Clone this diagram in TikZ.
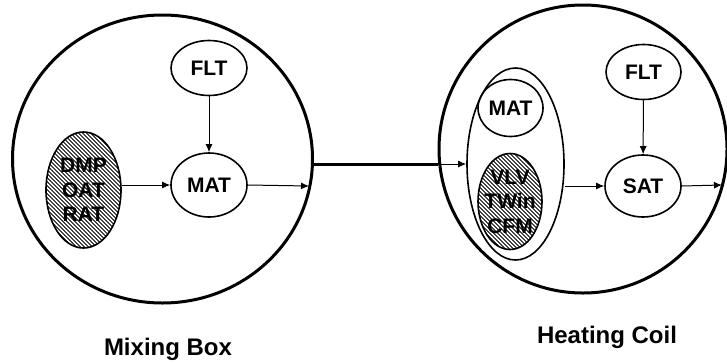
\documentclass[tikz,border=0pt]{standalone}
\usepackage{fontspec}
\setmainfont{Liberation Sans}
\usetikzlibrary{shapes.geometric}
\usetikzlibrary{arrows.meta}

\begin{document}
\begin{tikzpicture}[x=1pt,y=-1pt,
  every node/.style={font=\bfseries\fontsize{21}{24.5}\selectfont,inner sep=0pt},
  block/.style={ellipse,draw,line width=3pt},
  var/.style={ellipse,draw,line width=1.6pt},
  hatched/.style={var,path picture={
    \foreach \s in {-104,-100,...,104}
     \draw[line width=0.8pt] ([xshift=\s pt]path picture bounding box.center) ++(-70pt,70pt) -- ++(140pt,-140pt);
    \node[align=center] at (path picture bounding box.center) {#1};}},
  flow/.style={-{Latex[length=8pt,width=7pt]},line width=1pt},
  caption/.style={anchor=base,font=\bfseries\fontsize{24}{28}\selectfont}]
 \useasboundingbox (0,0) rectangle (727,362);
 \node[block,minimum width=300,minimum height=288] (mixbox) at (162.5,159) {};
 \node[block,minimum width=288,minimum height=288] (heatcoil) at (583,149) {};
 \node[var,minimum width=76,minimum height=55] (flta) at (209,68) {FLT};
 \node[var,minimum width=76,minimum height=64] (mata) at (209,185) {MAT};
 \node[hatched={DMP\\OAT\\RAT},minimum width=75,minimum height=116] (dmp) at (83.5,190) {};
 \node[var,minimum width=97,minimum height=192] (grp) at (515.5,164) {};
 \node[var,minimum width=65,minimum height=57] (matb) at (510.5,108) {MAT};
 \node[hatched={VLV\\TWin\\CFM},minimum width=64,minimum height=96] (vlv) at (510,201.5) {};
 \node[var,minimum width=75,minimum height=55] (fltb) at (643.5,72) {FLT};
 \node[var,minimum width=76,minimum height=62] (sat) at (643,186) {SAT};
 \coordinate (mbout) at (309,186);
 \coordinate (hcout) at (722,185);
 \draw[flow] (flta) -- (mata);
 \draw[flow] (dmp.east |- mata.west) -- (mata.west);
 \draw[flow] (mata.east) -- (mbout);
 \draw[line width=3pt] (mixbox.east |- grp.west) -- (heatcoil.west |- grp.west);
 \draw[flow] (heatcoil.west |- grp.west) -- (grp.west);
 \draw[flow] (grp.east |- sat.west) -- (sat.west);
 \draw[flow] (fltb) -- (sat);
 \draw[flow] (sat.east) -- (hcout);
 \node[caption] (mixlabel) at (168,355) {Mixing Box};
 \node[caption] (heatlabel) at (607,343) {Heating Coil};
\end{tikzpicture}
\end{document}
